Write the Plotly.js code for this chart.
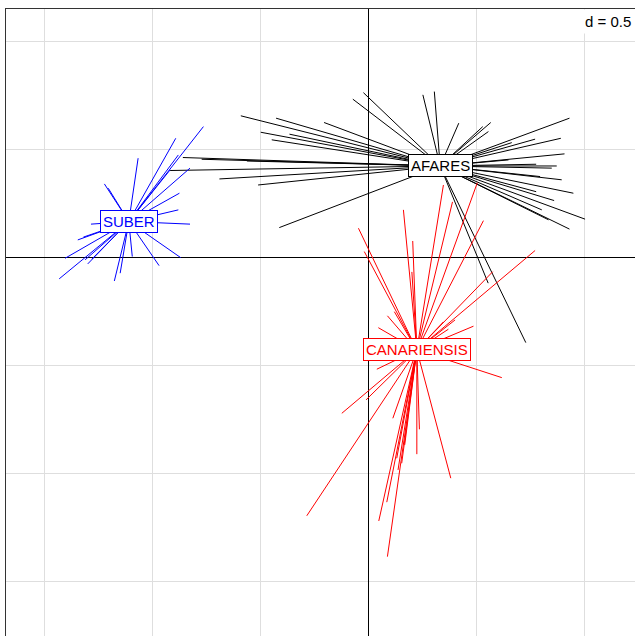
<!DOCTYPE html>
<html>
<head>
<meta charset="utf-8">
<script src="https://cdn.plot.ly/plotly-3.0.1.min.js"></script>
<style>html,body{margin:0;padding:0;overflow:hidden;background:#fff}</style>
</head>
<body>
<div id="chart" style="width:635px;height:636px"></div>
<script>
// group names and centroids
const groups = ["AFARES", "CANARIENSIS", "SUBER"];
const groupColors = ["#000000", "#ff0000", "#0000ff"];
const centroidX = [0.332, 0.224, -1.108];
const centroidY = [0.422, -0.429, 0.165];

// individual points (first two factorial axes)
const afaresX = [-0.590,-0.427,-0.205,-0.498,-0.365,-0.447,-0.858,-0.771,-0.917,-0.689,-0.510,-0.412,-0.072,-0.023,0.252,0.305,0.418,0.529,0.566,0.555,0.930,0.771,0.663,0.890,0.907,0.648,0.776,0.871,0.848,0.894,0.794,0.948,0.776,0.859,0.802,0.833,1.002,0.930,0.554,0.728,-0.562];
const afaresY = [0.654,0.643,0.623,0.578,0.569,0.543,0.461,0.453,0.401,0.362,0.334,0.137,0.731,0.761,0.751,0.766,0.620,0.604,0.623,0.581,0.643,0.546,0.530,0.550,0.478,0.450,0.430,0.422,0.412,0.358,0.373,0.296,0.303,0.262,0.219,0.173,0.176,0.130,-0.120,-0.395,0.445];

const canX = [0.504,0.347,0.389,0.162,0.532,0.205,0.771,0.575,0.486,-0.046,-0.019,0.201,0.088,0.046,0.039,-0.123,-0.011,0.113,-0.285,0.048,0.085,0.088,0.224,0.236,0.381,0.617,0.154,0.131,0.401,0.370,0.168,0.137,0.347,0.120];
const canY = [0.345,0.334,0.256,0.219,0.169,0.075,0.031,-0.067,-0.319,0.134,0.026,-0.068,-0.271,-0.326,-0.518,-0.722,-0.660,-0.745,-1.196,-1.220,-1.133,-1.385,-0.911,-0.796,-1.022,-0.557,-0.953,-0.930,-0.290,-0.333,-0.868,-0.984,-0.299,-0.252];

const suberX = [-0.763,-0.891,-0.825,-0.879,-1.065,-1.221,-1.203,-0.874,-0.879,-0.825,-1.283,-1.344,-1.318,-1.403,-1.430,-1.310,-1.298,-1.279,-1.175,-1.148,-1.092,-0.968,-0.868,-0.917];
const suberY = [0.604,0.550,0.412,0.473,0.458,0.339,0.319,0.296,0.219,0.153,0.153,0.080,0.093,-0.005,-0.100,-0.012,-0.031,-0.009,-0.110,-0.074,0.003,-0.039,-0.002,0.404];

const pointsX = [afaresX, canX, suberX];
const pointsY = [afaresY, canY, suberY];

const traces = groups.map((g, i) => {
  const xs = [], ys = [];
  pointsX[i].forEach((px, k) => {
    xs.push(centroidX[i], px, null);
    ys.push(centroidY[i], pointsY[i][k], null);
  });
  return {
    x: xs, y: ys, mode: "lines", type: "scatter", name: g,
    line: {color: groupColors[i], width: 1},
    hoverinfo: "skip", showlegend: false
  };
});

const annotations = groups.map((g, i) => ({
  x: centroidX[i], y: centroidY[i], xref: "x", yref: "y",
  text: g, showarrow: false,
  font: {family: "Liberation Sans, Arial, sans-serif", size: 15, color: groupColors[i]},
  bgcolor: "#ffffff", bordercolor: groupColors[i], borderwidth: 1, borderpad: 2,
  xanchor: "center", yanchor: "middle"
}));
annotations.push({
  x: 1, y: 1, xref: "paper", yref: "paper", xanchor: "right", yanchor: "top",
  text: "d = 0.5", showarrow: false,
  font: {family: "Liberation Sans, Arial, sans-serif", size: 15, color: "#000"},
  bgcolor: "#ffffff", borderpad: 3
});

const layout = {
  width: 635, height: 636,
  margin: {l: 6, r: 0, t: 9, b: 0, pad: 0},
  paper_bgcolor: "#ffffff", plot_bgcolor: "#ffffff",
  showlegend: false,
  xaxis: {
    range: [-1.676, 1.233], dtick: 0.5, tick0: 0,
    showgrid: true, gridcolor: "#dedede", gridwidth: 1,
    zeroline: true, zerolinecolor: "#000000", zerolinewidth: 1,
    showticklabels: false, ticks: "",
    showline: true, linecolor: "#333333", linewidth: 1.5, side: "top"
  },
  yaxis: {
    range: [-1.752, 1.148], dtick: 0.5, tick0: 0,
    showgrid: true, gridcolor: "#dedede", gridwidth: 1,
    zeroline: true, zerolinecolor: "#000000", zerolinewidth: 1,
    showticklabels: false, ticks: "",
    showline: true, linecolor: "#333333", linewidth: 1.5, side: "left"
  },
  annotations: annotations
};

Plotly.newPlot("chart", traces, layout, {displayModeBar: false, staticPlot: true});
</script>
</body>
</html>
